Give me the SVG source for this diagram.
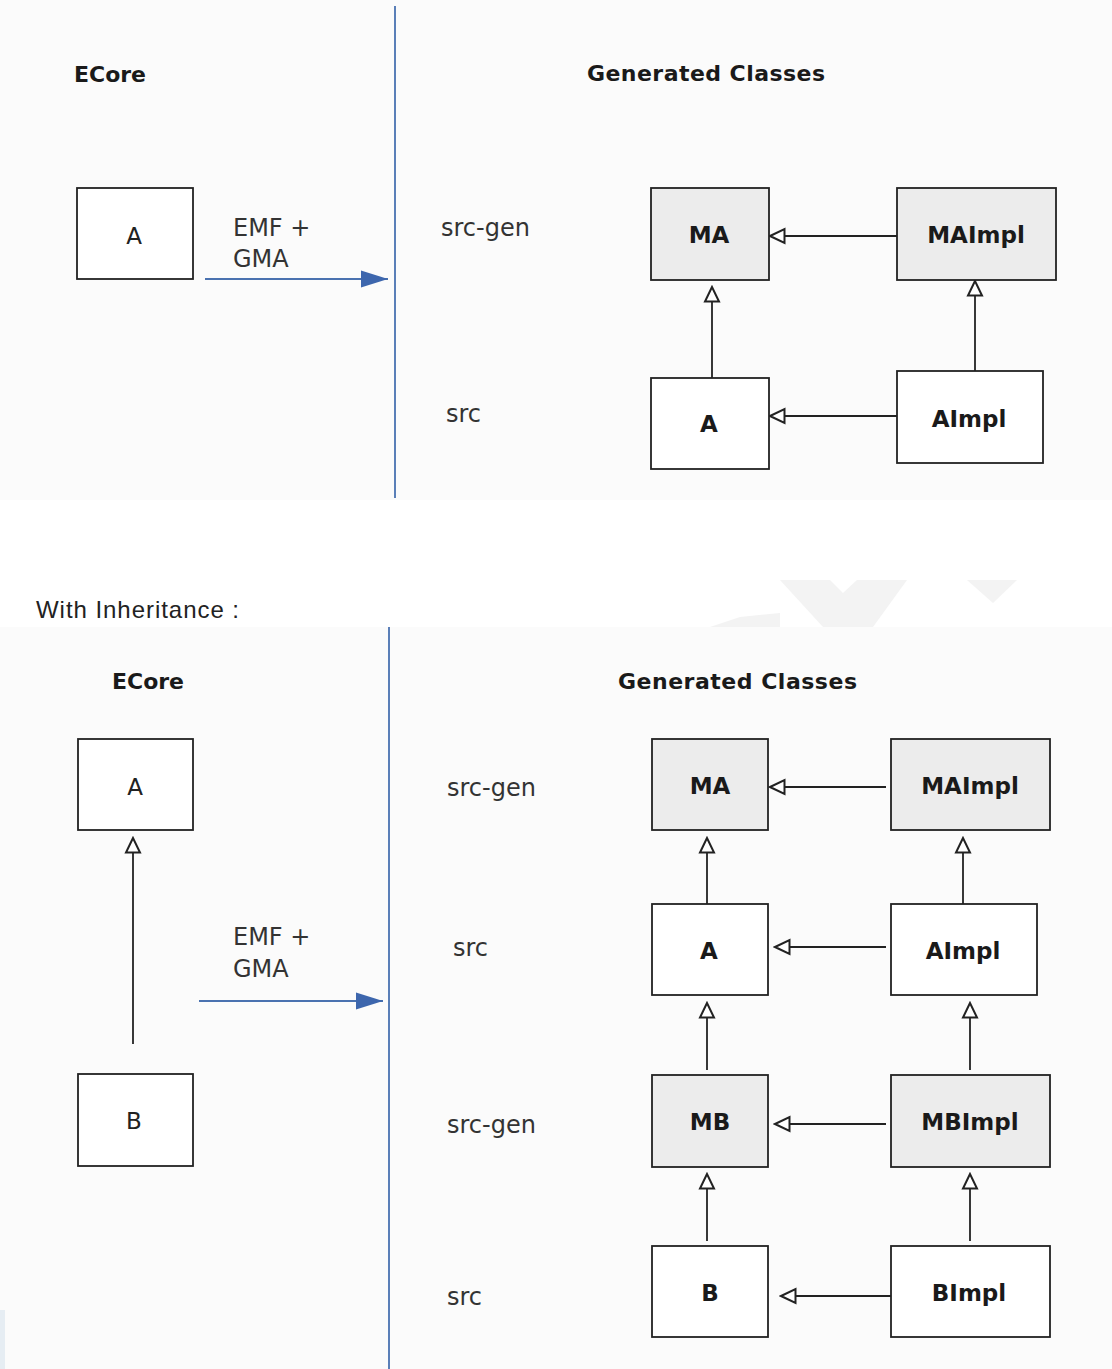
<svg xmlns="http://www.w3.org/2000/svg" width="1112" height="1369" viewBox="0 0 1112 1369">
<style>
.t{font-family:"DejaVu Sans","Liberation Sans",sans-serif;fill:#1a1a1a}
.h{font-weight:bold;font-size:22px}
.lab{font-size:24px;fill:#333}
.cls{font-weight:bold;font-size:23px;text-anchor:middle}
.ec{font-size:23px;text-anchor:middle;fill:#222}
.box{fill:#ffffff;stroke:#222;stroke-width:1.8}
.gen{fill:#ececec;stroke:#222;stroke-width:1.8}
.edge{stroke:#222;stroke-width:1.8;fill:none}
.flow{stroke:#4a72b0;stroke-width:1.8;fill:none}
.sep{stroke:#5a7fb8;stroke-width:2;fill:none}
</style>
<defs>
<marker id="tri" viewBox="0 0 18 18" refX="16" refY="9" markerUnits="userSpaceOnUse" markerWidth="18" markerHeight="18" orient="auto">
<path d="M16,9 L1.5,2 L1.5,16 Z" fill="#fff" stroke="#222" stroke-width="2" stroke-linejoin="miter"/>
</marker>
<marker id="blue" viewBox="0 0 28 18" refX="27" refY="9" markerUnits="userSpaceOnUse" markerWidth="28" markerHeight="18" orient="auto">
<path d="M0,0.5 L27,9 L0,17.5 Z" fill="#3d66ad"/>
</marker>
</defs>
<rect x="0" y="0" width="1112" height="1369" fill="#ffffff"/>
<rect x="0" y="0" width="1112" height="500" fill="#fbfbfb"/>
<rect x="0" y="627" width="1112" height="742" fill="#fbfbfb"/>
<g id="watermark" fill="#f3f3f3">
<polygon points="780,580 830,580 843,593 857,580 907,580 873,627 823,627"/>
<polygon points="710,627 740,617 780,613 780,627"/>
<polygon points="967,580 1017,580 993,603"/>
</g>
<rect x="0" y="1310" width="5" height="59" fill="#e6edf3"/>

<!-- Top section -->
<g id="top-titles">
<text class="t h" x="74" y="82" textLength="72">ECore</text>
<text class="t h" x="587" y="81" textLength="238">Generated Classes</text>
<text class="t lab" x="441" y="236">src-gen</text>
<text class="t lab" x="446" y="422">src</text>
<text class="t lab" x="233" y="236">EMF +</text>
<text class="t lab" x="233" y="267">GMA</text>
</g>
<g id="connectors-top">
<line class="sep" x1="395" y1="6" x2="395" y2="498"/>
<line class="flow" x1="205" y1="279" x2="388" y2="279" marker-end="url(#blue)"/>
<line class="edge" x1="897" y1="236" x2="770" y2="236" marker-end="url(#tri)"/>
<line class="edge" x1="712" y1="378" x2="712" y2="287" marker-end="url(#tri)"/>
<line class="edge" x1="975" y1="371" x2="975" y2="281" marker-end="url(#tri)"/>
<line class="edge" x1="897" y1="416" x2="770" y2="416" marker-end="url(#tri)"/>
</g>
<g id="t-ecore-A"><rect class="box" x="77" y="188" width="116" height="91"/><text class="t ec" x="134" y="244">A</text></g>
<g id="t-MA"><rect class="gen" x="651" y="188" width="118" height="92"/><text class="t cls" x="709" y="243">MA</text></g>
<g id="t-MAImpl"><rect class="gen" x="897" y="188" width="159" height="92"/><text class="t cls" x="976" y="243">MAImpl</text></g>
<g id="t-A"><rect class="box" x="651" y="378" width="118" height="91"/><text class="t cls" x="709" y="432">A</text></g>
<g id="t-AImpl"><rect class="box" x="897" y="371" width="146" height="92"/><text class="t cls" x="969" y="427">AImpl</text></g>

<!-- Bottom section -->
<text x="36" y="618" style="font-family:'Liberation Sans',sans-serif;font-size:24px;fill:#222" textLength="203">With Inheritance :</text>
<g id="bottom-titles">
<text class="t h" x="112" y="689" textLength="72">ECore</text>
<text class="t h" x="618" y="689" textLength="239">Generated Classes</text>
<text class="t lab" x="447" y="796">src-gen</text>
<text class="t lab" x="453" y="956">src</text>
<text class="t lab" x="447" y="1133">src-gen</text>
<text class="t lab" x="447" y="1305">src</text>
<text class="t lab" x="233" y="945">EMF +</text>
<text class="t lab" x="233" y="977">GMA</text>
</g>
<g id="connectors-bottom">
<line class="sep" x1="389" y1="627" x2="389" y2="1369"/>
<line class="flow" x1="199" y1="1001" x2="383" y2="1001" marker-end="url(#blue)"/>
<line class="edge" x1="133" y1="1044" x2="133" y2="838" marker-end="url(#tri)"/>
<line class="edge" x1="886" y1="787" x2="770" y2="787" marker-end="url(#tri)"/>
<line class="edge" x1="707" y1="904" x2="707" y2="838" marker-end="url(#tri)"/>
<line class="edge" x1="963" y1="904" x2="963" y2="838" marker-end="url(#tri)"/>
<line class="edge" x1="886" y1="947" x2="775" y2="947" marker-end="url(#tri)"/>
<line class="edge" x1="707" y1="1070" x2="707" y2="1003" marker-end="url(#tri)"/>
<line class="edge" x1="970" y1="1070" x2="970" y2="1003" marker-end="url(#tri)"/>
<line class="edge" x1="886" y1="1124" x2="775" y2="1124" marker-end="url(#tri)"/>
<line class="edge" x1="707" y1="1241" x2="707" y2="1174" marker-end="url(#tri)"/>
<line class="edge" x1="970" y1="1241" x2="970" y2="1174" marker-end="url(#tri)"/>
<line class="edge" x1="891" y1="1296" x2="781" y2="1296" marker-end="url(#tri)"/>
</g>
<g id="b-ecore-A"><rect class="box" x="78" y="739" width="115" height="91"/><text class="t ec" x="135" y="795">A</text></g>
<g id="b-ecore-B"><rect class="box" x="78" y="1074" width="115" height="92"/><text class="t ec" x="134" y="1129">B</text></g>
<g id="b-MA"><rect class="gen" x="652" y="739" width="116" height="91"/><text class="t cls" x="710" y="794">MA</text></g>
<g id="b-MAImpl"><rect class="gen" x="891" y="739" width="159" height="91"/><text class="t cls" x="970" y="794">MAImpl</text></g>
<g id="b-A"><rect class="box" x="652" y="904" width="116" height="91"/><text class="t cls" x="709" y="959">A</text></g>
<g id="b-AImpl"><rect class="box" x="891" y="904" width="146" height="91"/><text class="t cls" x="963" y="959">AImpl</text></g>
<g id="b-MB"><rect class="gen" x="652" y="1075" width="116" height="92"/><text class="t cls" x="710" y="1130">MB</text></g>
<g id="b-MBImpl"><rect class="gen" x="891" y="1075" width="159" height="92"/><text class="t cls" x="970" y="1130">MBImpl</text></g>
<g id="b-B"><rect class="box" x="652" y="1246" width="116" height="91"/><text class="t cls" x="710" y="1301">B</text></g>
<g id="b-BImpl"><rect class="box" x="891" y="1246" width="159" height="91"/><text class="t cls" x="969" y="1301">BImpl</text></g>
</svg>
